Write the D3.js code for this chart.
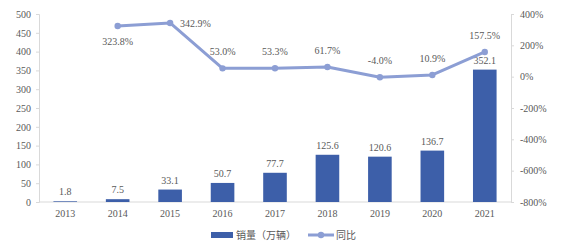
<!DOCTYPE html>
<html>
<head>
<meta charset="utf-8">
<script src="https://cdn.jsdelivr.net/npm/d3@7"></script>
<style>
  body { margin: 0; background: #fff; }
  text { font-family: "Liberation Serif", "Times New Roman", serif; fill: #595959; }
  .cjk { font-family: "Noto Sans CJK SC", sans-serif; }
</style>
</head>
<body>
<div id="chart"></div>
<script>
// data
var years = ["2013", "2014", "2015", "2016", "2017", "2018", "2019", "2020", "2021"];
var sales = [1.8, 7.5, 33.1, 50.7, 77.7, 125.6, 120.6, 136.7, 352.1];
var yoy = [null, 323.8, 342.9, 53.0, 53.3, 61.7, -4.0, 10.9, 157.5];
var leftTicks = [0, 50, 100, 150, 200, 250, 300, 350, 400, 450, 500];
var rightTicks = [-800, -600, -400, -200, 0, 200, 400];
var seriesNames = ["销量（万辆）", "同比"];

var width = 564, height = 249;
var margin = {left: 39, right: 53, top: 14, bottom: 47};
var barColor = "#3D5FA9", lineColor = "#8C9ED4", axisColor = "#D9D9D9";

var svg = d3.select("#chart").append("svg")
    .attr("width", width)
    .attr("height", height);

var x = d3.scaleBand().domain(years)
    .range([margin.left, width - margin.right])
    .paddingInner(0.55).paddingOuter(0.275);
var y = d3.scaleLinear().domain([0, 500]).range([height - margin.bottom, margin.top]);
var y2 = d3.scaleLinear().domain([-800, 400]).range([height - margin.bottom, margin.top]);

// axes
var leftAxis = svg.append("g")
    .attr("transform", "translate(" + margin.left + ",0)")
    .call(d3.axisLeft(y).tickValues(leftTicks).tickSize(3).tickPadding(5));
var rightAxis = svg.append("g")
    .attr("transform", "translate(" + (width - margin.right) + ",0)")
    .call(d3.axisRight(y2).tickValues(rightTicks).tickSize(3).tickPadding(6)
      .tickFormat(function(d) { return d + "%"; }));
var bottomAxis = svg.append("g")
    .attr("transform", "translate(0," + (height - margin.bottom) + ")")
    .call(d3.axisBottom(x).tickSize(0).tickPadding(8));

[leftAxis, rightAxis, bottomAxis].forEach(function(g) {
  g.selectAll("path.domain").attr("stroke", axisColor);
  g.selectAll(".tick line").attr("stroke", axisColor);
  g.selectAll(".tick text")
    .style("font-family", "'Liberation Serif', serif")
    .style("font-size", "10px")
    .attr("fill", "#595959");
});
bottomAxis.select("path.domain").attr("d", "M" + margin.left + ",0H" + (width - margin.right));

// bars
svg.selectAll("rect.bar").data(sales).enter().append("rect")
    .attr("class", "bar")
    .attr("x", function(d, i) { return x(years[i]); })
    .attr("y", function(d) { return y(d); })
    .attr("width", x.bandwidth())
    .attr("height", function(d) { return y(0) - y(d); })
    .attr("fill", barColor);

svg.selectAll("text.barlab").data(sales).enter().append("text")
    .attr("class", "barlab")
    .attr("x", function(d, i) { return x(years[i]) + x.bandwidth() / 2; })
    .attr("y", function(d) { return y(d) - 6; })
    .attr("text-anchor", "middle")
    .style("font-size", "10px")
    .text(function(d) { return d.toFixed(1); });

// yoy line
var pts = yoy.map(function(v, i) { return {year: years[i], v: v}; })
    .filter(function(d) { return d.v !== null; });
var line = d3.line()
    .x(function(d) { return x(d.year) + x.bandwidth() / 2; })
    .y(function(d) { return y2(d.v); });

svg.append("path").datum(pts)
    .attr("d", line)
    .attr("fill", "none")
    .attr("stroke", lineColor)
    .attr("stroke-width", 3)
    .attr("stroke-linejoin", "round");

svg.selectAll("circle.pt").data(pts).enter().append("circle")
    .attr("cx", function(d) { return x(d.year) + x.bandwidth() / 2; })
    .attr("cy", function(d) { return y2(d.v); })
    .attr("r", 3.2)
    .attr("fill", lineColor);

// label placement like the original (2014 below, 2015 to the right)
var place = {"2014": "below", "2015": "right"};
svg.selectAll("text.pctlab").data(pts).enter().append("text")
    .attr("x", function(d) {
      var cx = x(d.year) + x.bandwidth() / 2;
      return place[d.year] === "right" ? cx + 10 : cx;
    })
    .attr("y", function(d) {
      var cy = y2(d.v);
      if (place[d.year] === "below") return cy + 19;
      if (place[d.year] === "right") return cy + 4;
      return cy - 13;
    })
    .attr("text-anchor", function(d) { return place[d.year] === "right" ? "start" : "middle"; })
    .style("font-size", "10px")
    .text(function(d) { return d.v.toFixed(1) + "%"; });

// legend
var ly = 235;
var legend = svg.append("g");
legend.append("rect").attr("x", 211).attr("y", ly - 3).attr("width", 22).attr("height", 6).attr("fill", barColor);
legend.append("text").attr("class", "cjk").attr("x", 236).attr("y", ly + 3.5)
    .style("font-size", "10px").text(seriesNames[0]);
legend.append("line").attr("x1", 308).attr("x2", 334).attr("y1", ly).attr("y2", ly)
    .attr("stroke", lineColor).attr("stroke-width", 3);
legend.append("circle").attr("cx", 321).attr("cy", ly).attr("r", 3.2).attr("fill", lineColor);
legend.append("text").attr("class", "cjk").attr("x", 336).attr("y", ly + 3.5)
    .style("font-size", "10px").text(seriesNames[1]);
</script>
</body>
</html>
